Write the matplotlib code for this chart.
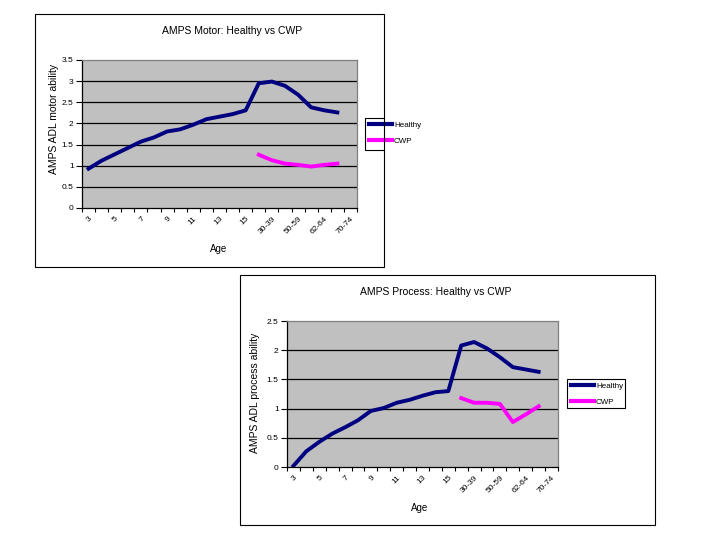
import numpy as np
import matplotlib
matplotlib.use("Agg")
import matplotlib.pyplot as plt
from matplotlib.patches import Rectangle
from matplotlib.transforms import Bbox, TransformedBbox

plt.rcParams['font.family'] = ['Liberation Sans', 'DejaVu Sans']

ages = ["3", "4", "5", "6", "7", "8", "9", "10", "11", "12", "13", "14", "15", "16",
        "30-39", "40-49", "50-59", "60-61", "62-64", "65-69", "70-74"]

motor_healthy = [0.93, 1.12, 1.27, 1.42, 1.57, 1.67, 1.81, 1.86, 1.97, 2.10, 2.16,
                 2.22, 2.31, 2.95, 2.99, 2.89, 2.68, 2.38, 2.31, 2.26, np.nan]
motor_cwp = [np.nan] * 13 + [1.26, 1.13, 1.05, 1.02, 0.98, 1.02, 1.05, np.nan]

process_healthy = [0.02, 0.27, 0.43, 0.57, 0.68, 0.80, 0.96, 1.01, 1.10, 1.15, 1.22,
                   1.28, 1.30, 2.08, 2.14, 2.03, 1.88, 1.71, 1.67, 1.63, np.nan]
process_cwp = [np.nan] * 13 + [1.18, 1.10, 1.10, 1.08, 0.77, 0.90, 1.04, np.nan]

NAVY = "#000080"
MAGENTA = "#ff00ff"

fig = plt.figure(figsize=(7.2, 5.4), dpi=100)
fig.patch.set_facecolor("white")


def px(x0, y0, x1, y1):
    # pixel box (top-left origin) -> figure fraction rect
    return [x0 / 720, (540 - y1) / 540, (x1 - x0) / 720, (y1 - y0) / 540]


def chart(rect, frame, healthy, cwp, ymax, title, title_xy, ylabel, ylab_xy, xlab_xy, leg_box):
    fr = px(*frame)
    fig.patches.append(Rectangle((fr[0], fr[1]), fr[2], fr[3], transform=fig.transFigure,
                                 fill=False, edgecolor="black", linewidth=0.8, zorder=0))
    ax = fig.add_axes(px(*rect))
    ax.set_facecolor("#c0c0c0")
    x = np.arange(len(ages))
    ax.plot(x, healthy, color=NAVY, linewidth=2.8, label="Healthy", solid_joinstyle="round")
    ax.plot(x, cwp, color=MAGENTA, linewidth=2.8, label="CWP", solid_joinstyle="round")
    ax.set_xlim(-0.5, len(ages) - 0.5)
    ax.set_ylim(0, ymax)
    yt = np.arange(0, ymax + 0.01, 0.5)
    ax.set_yticks(yt)
    ax.set_yticklabels(["%g" % v for v in yt], fontsize=6)
    for v in yt[1:-1]:
        ax.axhline(v, color="black", linewidth=0.9, zorder=1)
    ax.set_xticks(np.arange(-0.5, len(ages)))
    ax.set_xticklabels([])
    ax.set_xticks(x[::2], minor=True)
    ax.set_xticklabels(ages[::2], minor=True, rotation=45, ha="right", va="top",
                       fontsize=6, rotation_mode="anchor")
    ax.tick_params(axis="x", which="major", direction="out", length=3, width=0.8)
    ax.tick_params(axis="x", which="minor", length=0, pad=5)
    ax.tick_params(axis="y", direction="out", length=4, width=0.8, pad=2)
    for s in ["top", "right"]:
        ax.spines[s].set_color("#808080")
        ax.spines[s].set_linewidth(0.9)
    for s in ["left", "bottom"]:
        ax.spines[s].set_color("black")
        ax.spines[s].set_linewidth(0.9)
    fig.text(title_xy[0] / 720, 1 - title_xy[1] / 540, title, ha="center", va="center", fontsize=7.5)
    ax.set_ylabel(ylabel, fontsize=7.5)
    ax.yaxis.set_label_coords(*ylab_xy)
    ax.set_xlabel("Age", fontsize=7)
    ax.xaxis.set_label_coords(*xlab_xy)

    # legend: entries from the lines, box drawn separately so it can be cut by the chart frame
    lb = px(*leg_box)
    leg = ax.legend(loc="upper left", bbox_to_anchor=(lb[0], lb[1] + lb[3]),
                    bbox_transform=fig.transFigure, fontsize=5.8, frameon=False,
                    handlelength=2.9, handletextpad=0.25, borderpad=0.45,
                    labelspacing=1.0, borderaxespad=0)
    for line in leg.get_lines():
        line.set_linewidth(3)
    box = Rectangle((lb[0], lb[1]), lb[2], lb[3], transform=fig.transFigure,
                    fill=False, edgecolor="black", linewidth=0.8)
    box.set_clip_box(TransformedBbox(Bbox.from_bounds(fr[0], fr[1], fr[2], fr[3]),
                                     fig.transFigure))
    box.set_clip_on(True)
    fig.patches.append(box)
    return ax


chart((82, 60, 357, 208), (35, 14, 384, 267), motor_healthy, motor_cwp, 3.5,
      "AMPS Motor: Healthy vs CWP", (232, 31), "AMPS ADL motor ability",
      (-0.085, 0.6), (0.495, -0.243), (365, 118, 424, 150))

chart((287, 321, 558, 467), (240, 275, 655, 525), process_healthy, process_cwp, 2.5,
      "AMPS Process: Healthy vs CWP", (436, 292), "AMPS ADL process ability",
      (-0.1, 0.51), (0.49, -0.246), (567, 379, 625, 408))

fig.savefig("out.png", dpi=100)
